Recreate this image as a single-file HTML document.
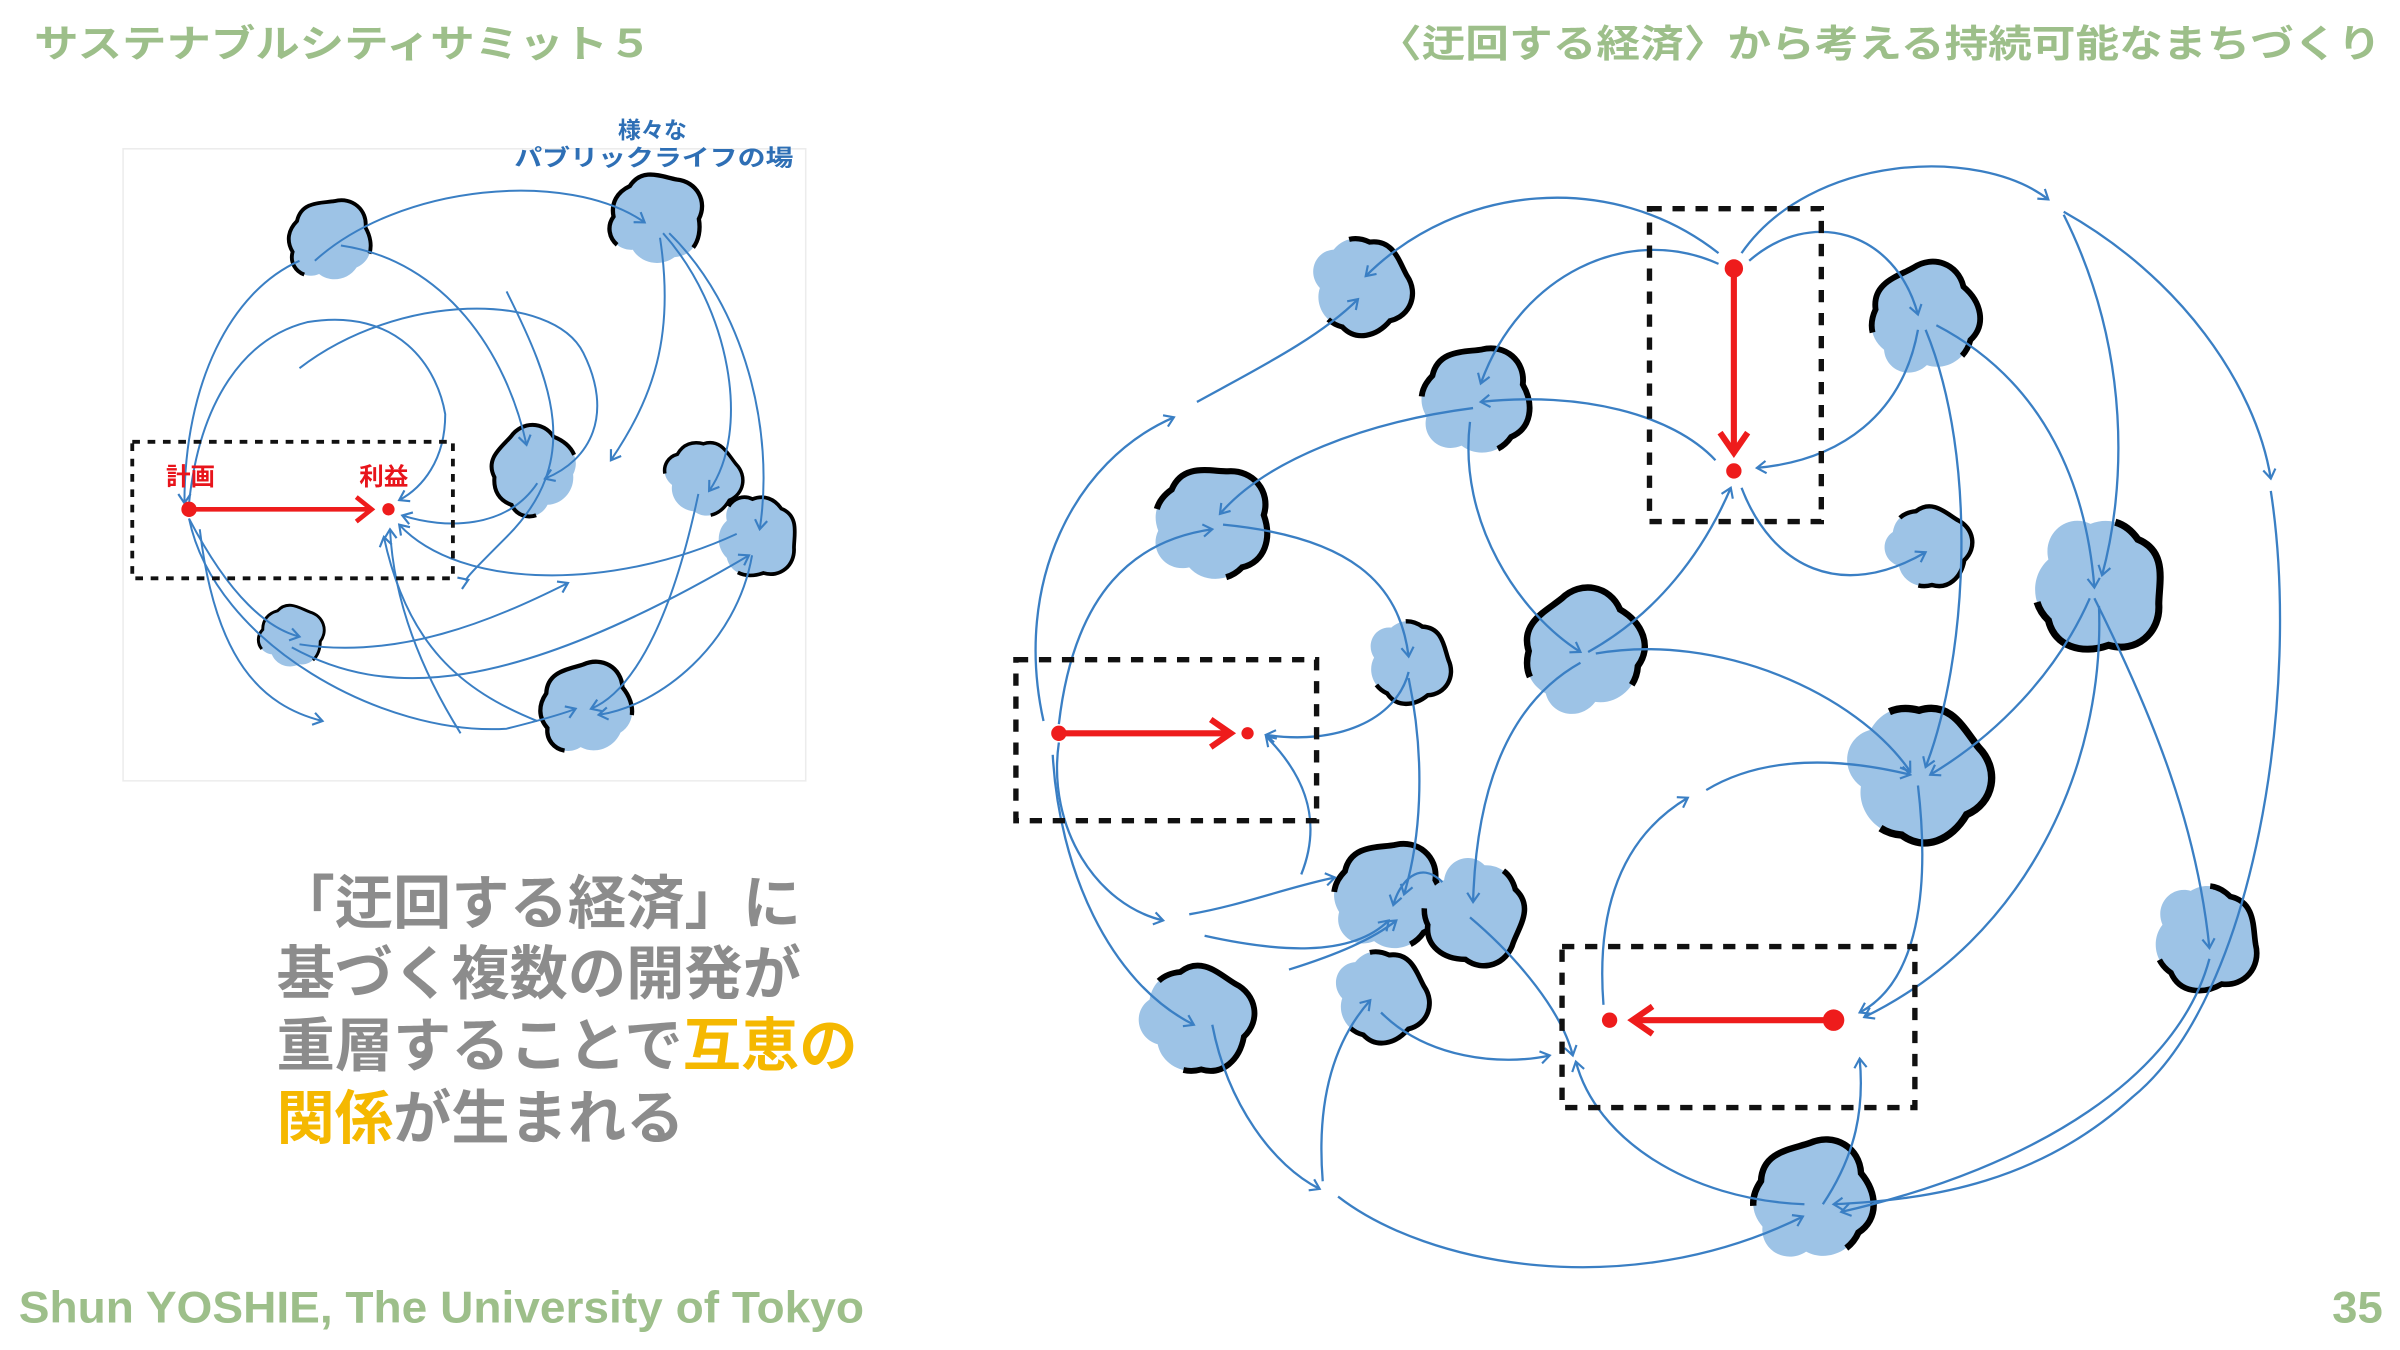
<!DOCTYPE html>
<html><head><meta charset="utf-8">
<style>
html,body{margin:0;padding:0;background:#fff;}
svg{display:block;}
.t{font-family:"Liberation Sans","Noto Sans CJK JP",sans-serif;font-weight:bold;}
</style></head>
<body>
<svg width="2400" height="1350" viewBox="0 0 1564 880" xmlns="http://www.w3.org/2000/svg">
<defs>
<marker id="ar" markerWidth="10" markerHeight="10" refX="7" refY="5" orient="auto" markerUnits="userSpaceOnUse">
<path d="M1,1 L7,5 L1,9" fill="none" stroke="#3a7fc4" stroke-width="1.4"/>
</marker>
<path id="blob" d="M-30,-18 C-26,-36 -8,-34 4,-36 C20,-40 34,-28 32,-12 C40,2 38,18 24,24 C16,36 0,38 -10,30 C-24,36 -38,24 -34,10 C-40,0 -38,-10 -30,-18 Z"/>
</defs>
<rect width="1564" height="880" fill="#fff"/>

<!-- headers -->
<text class="t" x="22" y="37" font-size="25" fill="#9dbf8a" textLength="403" lengthAdjust="spacingAndGlyphs">サステナブルシティサミット５</text>
<text class="t" x="898" y="37" font-size="25" fill="#9dbf8a" textLength="654" lengthAdjust="spacingAndGlyphs">〈迂回する経済〉から考える持続可能なまちづくり</text>
<text class="t" x="12" y="862" font-size="29" fill="#9dbf8a" textLength="551" lengthAdjust="spacingAndGlyphs">Shun YOSHIE, The University of Tokyo</text>
<text class="t" x="1520" y="862" font-size="29" fill="#9dbf8a" textLength="33" lengthAdjust="spacingAndGlyphs">35</text>

<!-- left diagram -->
<rect x="80" y="97" width="445" height="412" fill="none" stroke="#ececec" stroke-width="1"/>
<text class="t" x="425" y="90" font-size="15" fill="#2e6fb5" text-anchor="middle">様々な</text>
<text class="t" x="335" y="108" font-size="15" fill="#2e6fb5" textLength="182" lengthAdjust="spacingAndGlyphs">パブリックライフの場</text>

<g fill="#9dc3e6" stroke="#000" stroke-width="3.5" stroke-dasharray="110 70">
<use href="#blob" transform="translate(215,157) scale(0.72)"/>
<use href="#blob" transform="translate(428,143) scale(0.8) rotate(20)"/>
<use href="#blob" transform="translate(348,307) scale(0.75) rotate(-40)"/>
<use href="#blob" transform="translate(458,312) scale(0.65) rotate(60)"/>
<use href="#blob" transform="translate(493,350) scale(0.7) rotate(100)"/>
<use href="#blob" transform="translate(190,415) scale(0.55) rotate(30)"/>
<use href="#blob" transform="translate(382,462) scale(0.8) rotate(-10)"/>
</g>

<g fill="none" stroke="#3a7fc4" stroke-width="1.3" marker-end="url(#ar)">
<path d="M205,170 C260,120 370,110 420,145"/>
<path d="M195,170 C150,190 120,250 120,328"/>
<path d="M222,160 C290,170 330,230 343,290"/>
<path d="M195,240 C260,190 360,190 380,230 C400,270 385,300 355,312"/>
<path d="M430,155 C440,220 425,260 398,300"/>
<path d="M432,152 C475,200 490,280 462,320"/>
<path d="M436,152 C485,200 505,280 495,345"/>
<path d="M123,338 C140,420 250,480 330,475 C350,470 365,466 375,462"/>
<path d="M123,338 C150,390 175,410 195,415"/>
<path d="M195,420 C260,430 320,405 370,380"/>
<path d="M190,422 C250,455 330,455 488,362"/>
<path d="M490,362 C480,420 430,460 390,466"/>
<path d="M455,322 C430,440 395,458 385,462"/>
<path d="M350,315 C330,345 290,345 262,336"/>
<path d="M480,348 C400,385 300,385 260,342"/>
<path d="M123,328 C130,260 160,220 200,210 C260,200 285,240 290,270 C290,300 275,318 260,326"/>
<path d="M300,478 C270,430 256,385 254,345"/>
<path d="M130,345 C140,430 170,460 210,470"/>
<path d="M330,190 C360,250 380,300 330,350 C310,370 300,380 305,378"/>
<path d="M350,470 C300,450 265,420 250,350"/>
</g>

<rect x="86" y="288" width="209" height="89" fill="none" stroke="#111" stroke-width="2.5" stroke-dasharray="5 5"/>
<text class="t" x="108" y="316" font-size="16" fill="#e8141b">計画</text>
<text class="t" x="234" y="316" font-size="16" fill="#e8141b">利益</text>
<line x1="123" y1="332" x2="240" y2="332" stroke="#ee1c1c" stroke-width="3"/>
<path d="M232,324 L242,332 L232,340" fill="none" stroke="#ee1c1c" stroke-width="3"/>
<circle cx="123" cy="332" r="5" fill="#ee1c1c"/>
<circle cx="253" cy="332" r="4" fill="#ee1c1c"/>

<!-- main text -->
<g class="t" font-size="38" fill="#8c8c8c" font-weight="bold">
<text x="180" y="602">「迂回する経済」に</text>
<text x="180" y="648">基づく複数の開発が</text>
<text x="180" y="695">重層することで<tspan fill="#f5b800">互恵の</tspan></text>
<text x="180" y="742"><tspan fill="#f5b800">関係</tspan>が生まれる</text>
</g>

<!-- right diagram blobs -->
<g fill="#9dc3e6" stroke="#000" stroke-width="4" stroke-dasharray="140 80">
<use href="#blob" transform="translate(887,187) scale(0.85) rotate(70)"/>
<use href="#blob" transform="translate(962,262) scale(0.95)"/>
<use href="#blob" transform="translate(1255,208) scale(0.95) rotate(-20)"/>
<use href="#blob" transform="translate(790,342) scale(1.0) rotate(10)"/>
<use href="#blob" transform="translate(1033,425) scale(1.05) rotate(-30)"/>
<use href="#blob" transform="translate(918,432) scale(0.72) rotate(80)"/>
<use href="#blob" transform="translate(1257,357) scale(0.72) rotate(40)"/>
<use href="#blob" transform="translate(1367,382) scale(1.15) rotate(100)"/>
<use href="#blob" transform="translate(1250,505) scale(1.2) rotate(60)"/>
<use href="#blob" transform="translate(905,585) scale(0.95)"/>
<use href="#blob" transform="translate(960,595) scale(0.9) rotate(120)"/>
<use href="#blob" transform="translate(780,665) scale(0.95) rotate(40)"/>
<use href="#blob" transform="translate(900,650) scale(0.8) rotate(70)"/>
<use href="#blob" transform="translate(1437,612) scale(0.92) rotate(90)"/>
<use href="#blob" transform="translate(1182,783) scale(1.05) rotate(-10)"/>
</g>

<g fill="none" stroke="#3a7fc4" stroke-width="1.5" marker-end="url(#ar)">
<path d="M680,470 C660,380 700,300 765,272"/>
<path d="M780,262 C820,240 860,220 885,195"/>
<path d="M1120,165 C1050,110 950,120 890,180"/>
<path d="M1135,165 C1180,100 1290,95 1335,130"/>
<path d="M1345,138 C1420,180 1470,250 1480,312"/>
<path d="M1480,320 C1500,450 1470,650 1390,715 C1330,770 1260,782 1195,785"/>
<path d="M1140,170 C1180,135 1235,150 1250,205"/>
<path d="M1255,215 C1290,300 1282,430 1255,500"/>
<path d="M1262,212 C1335,250 1360,320 1365,383"/>
<path d="M1365,390 C1405,470 1432,540 1440,618"/>
<path d="M1345,140 C1390,230 1385,320 1370,375"/>
<path d="M1440,625 C1420,700 1330,760 1200,790"/>
<path d="M1118,300 C1090,270 1030,255 965,262"/>
<path d="M1250,215 C1240,270 1200,300 1145,305"/>
<path d="M1120,172 C1060,145 990,180 965,250"/>
<path d="M960,266 C890,275 825,300 795,335"/>
<path d="M958,275 C950,340 990,400 1030,425"/>
<path d="M1035,425 C1080,400 1110,360 1128,318"/>
<path d="M1135,318 C1155,370 1200,392 1255,360"/>
<path d="M797,342 C880,350 912,380 918,428"/>
<path d="M918,438 C910,470 870,486 825,479"/>
<path d="M1040,426 C1120,412 1210,452 1245,503"/>
<path d="M1030,432 C980,460 962,520 960,588"/>
<path d="M918,442 C930,500 925,550 915,583"/>
<path d="M1362,390 C1340,440 1300,480 1258,505"/>
<path d="M1250,512 C1258,580 1250,640 1212,660"/>
<path d="M1368,395 C1372,500 1320,612 1215,663"/>
<path d="M1045,655 C1040,590 1058,545 1100,520"/>
<path d="M1112,515 C1150,492 1200,494 1245,505"/>
<path d="M958,598 C990,625 1018,660 1025,688"/>
<path d="M690,484 C682,540 715,590 758,600"/>
<path d="M775,596 C810,590 840,578 870,572"/>
<path d="M690,472 C700,385 740,352 790,345"/>
<path d="M848,570 C860,540 855,510 825,480"/>
<path d="M686,492 C690,565 722,640 778,668"/>
<path d="M790,668 C800,720 830,760 860,775"/>
<path d="M872,780 C930,825 1060,850 1175,793"/>
<path d="M840,632 C872,622 895,612 910,600"/>
<path d="M900,660 C930,690 978,695 1010,688"/>
<path d="M862,770 C858,720 868,680 893,652"/>
<path d="M1176,785 C1100,782 1040,742 1027,692"/>
<path d="M1188,785 C1210,752 1215,722 1212,690"/>
<path d="M940,575 C925,560 912,575 908,590"/>
<path d="M785,610 C830,620 880,625 905,600"/>
</g>

<g fill="none" stroke="#111" stroke-width="3.5" stroke-dasharray="8 7">
<rect x="1075" y="136" width="112" height="204"/>
<rect x="662" y="430" width="196" height="105"/>
<rect x="1018" y="617" width="230" height="105"/>
</g>

<g stroke="#ee1c1c" stroke-width="4" fill="none">
<line x1="1130" y1="176" x2="1130" y2="293"/>
<path d="M1121,282 L1130,295 L1139,282"/>
<line x1="690" y1="478" x2="800" y2="478"/>
<path d="M789,469 L802,478 L789,487"/>
<line x1="1195" y1="665" x2="1066" y2="665"/>
<path d="M1077,656 L1064,665 L1077,674"/>
</g>
<g fill="#ee1c1c">
<circle cx="1130" cy="175" r="6"/>
<circle cx="1130" cy="307" r="5"/>
<circle cx="690" cy="478" r="5"/>
<circle cx="813" cy="478" r="4"/>
<circle cx="1195" cy="665" r="7"/>
<circle cx="1049" cy="665" r="5"/>
</g>
</svg>
</body></html>
